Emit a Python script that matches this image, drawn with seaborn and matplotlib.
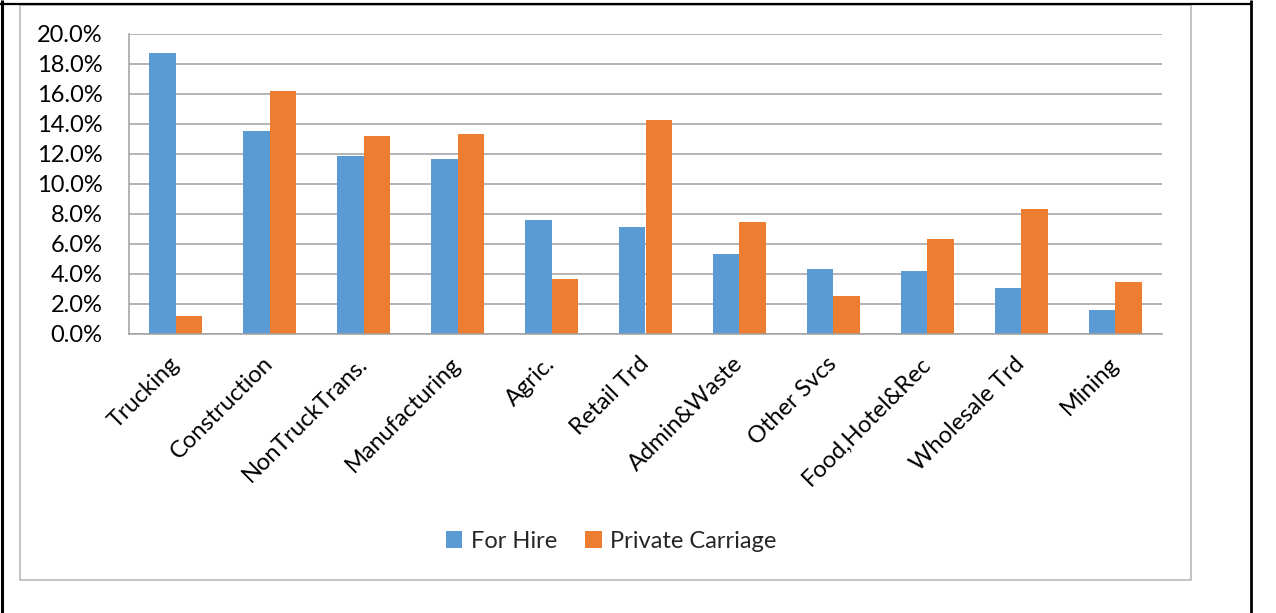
import matplotlib
matplotlib.use("Agg")
import matplotlib.pyplot as plt
from matplotlib.patches import Rectangle
from matplotlib.lines import Line2D
import pandas as pd
import seaborn as sns

# Share of establishments by industry, for-hire vs. private carriage (%)
industries = ["Trucking", "Construction", "NonTruckTrans.", "Manufacturing", "Agric.",
              "Retail Trd", "Admin&Waste", "Other Svcs", "Food,Hotel&Rec",
              "Wholesale Trd", "Mining"]
for_hire = [18.75, 13.55, 11.87, 11.70, 7.58, 7.15, 5.31, 4.31, 4.22, 3.04, 1.60]
private_carriage = [1.20, 16.20, 13.20, 13.33, 3.67, 14.29, 7.44, 2.51, 6.31, 8.31, 3.49]
series_names = ["For Hire", "Private Carriage"]
y_ticks = [0, 2, 4, 6, 8, 10, 12, 14, 16, 18, 20]

df = pd.DataFrame({
    "Industry": industries * 2,
    "Share": for_hire + private_carriage,
    "Carrier": [series_names[0]] * len(industries) + [series_names[1]] * len(industries),
})

sns.set_theme(style="white")
plt.rcParams["font.family"] = ["Lato", "DejaVu Sans"]

W, H = 1276, 613
fig = plt.figure(figsize=(W / 100, H / 100), dpi=100)
fig.patch.set_facecolor("white")

def fx(px):
    return px / W

def fy(py):
    return 1 - py / H

# Outer table-cell border
lk = dict(color="black", transform=fig.transFigure, solid_capstyle="butt")
fig.add_artist(Line2D([fx(1.5), fx(1.5)], [0, 1], lw=2.2, **lk))
fig.add_artist(Line2D([fx(1251), fx(1251)], [0, 1], lw=2.0, **lk))
fig.add_artist(Line2D([fx(0), fx(1252)], [fy(4), fy(4)], lw=1.6, **lk))

# Chart frame
fig.add_artist(Rectangle((fx(20), fy(580)), fx(1191) - fx(20), fy(5) - fy(580),
                         transform=fig.transFigure, fill=False,
                         edgecolor="#B4B4B4", lw=1.1))

ax = fig.add_axes([fx(129), fy(334), fx(1162) - fx(129), fy(34) - fy(334)])

sns.barplot(data=df, x="Industry", y="Share", hue="Carrier", ax=ax,
            palette=["#5B9BD5", "#ED7D31"], width=0.565, gap=0,
            linewidth=0, saturation=1, errorbar=None)

ax.set_ylim(0, 20)
ax.set_xlim(-0.5, len(industries) - 0.5)
ax.set_yticks(y_ticks)
ax.set_yticklabels([f"{v:.1f}%" for v in y_ticks])
ax.yaxis.grid(True, color="#A0A0A0", lw=1.1)
ax.set_axisbelow(True)
ax.set_xlabel("")
ax.set_ylabel("")

for side in ["top", "right"]:
    ax.spines[side].set_visible(False)
ax.spines["left"].set_color("#A0A0A0")
ax.spines["left"].set_linewidth(1.1)
ax.spines["bottom"].set_color("#A0A0A0")
ax.spines["bottom"].set_linewidth(1.1)

ax.tick_params(axis="y", length=0, pad=19, labelsize=17, labelcolor="black")
ax.tick_params(axis="x", length=0, pad=19, labelsize=17, labelcolor="black")
for lbl in ax.get_xticklabels():
    lbl.set_rotation(45)
    lbl.set_ha("right")
    lbl.set_va("center")
    lbl.set_rotation_mode("anchor")

sns.move_legend(ax, loc="center", bbox_to_anchor=(fx(611), fy(541)),
                bbox_transform=fig.transFigure, ncol=2, frameon=False, title=None,
                fontsize=17, handlelength=0.7, handleheight=0.7,
                handletextpad=0.35, columnspacing=1.2)

fig.savefig("out.png", dpi=100, facecolor="white")
